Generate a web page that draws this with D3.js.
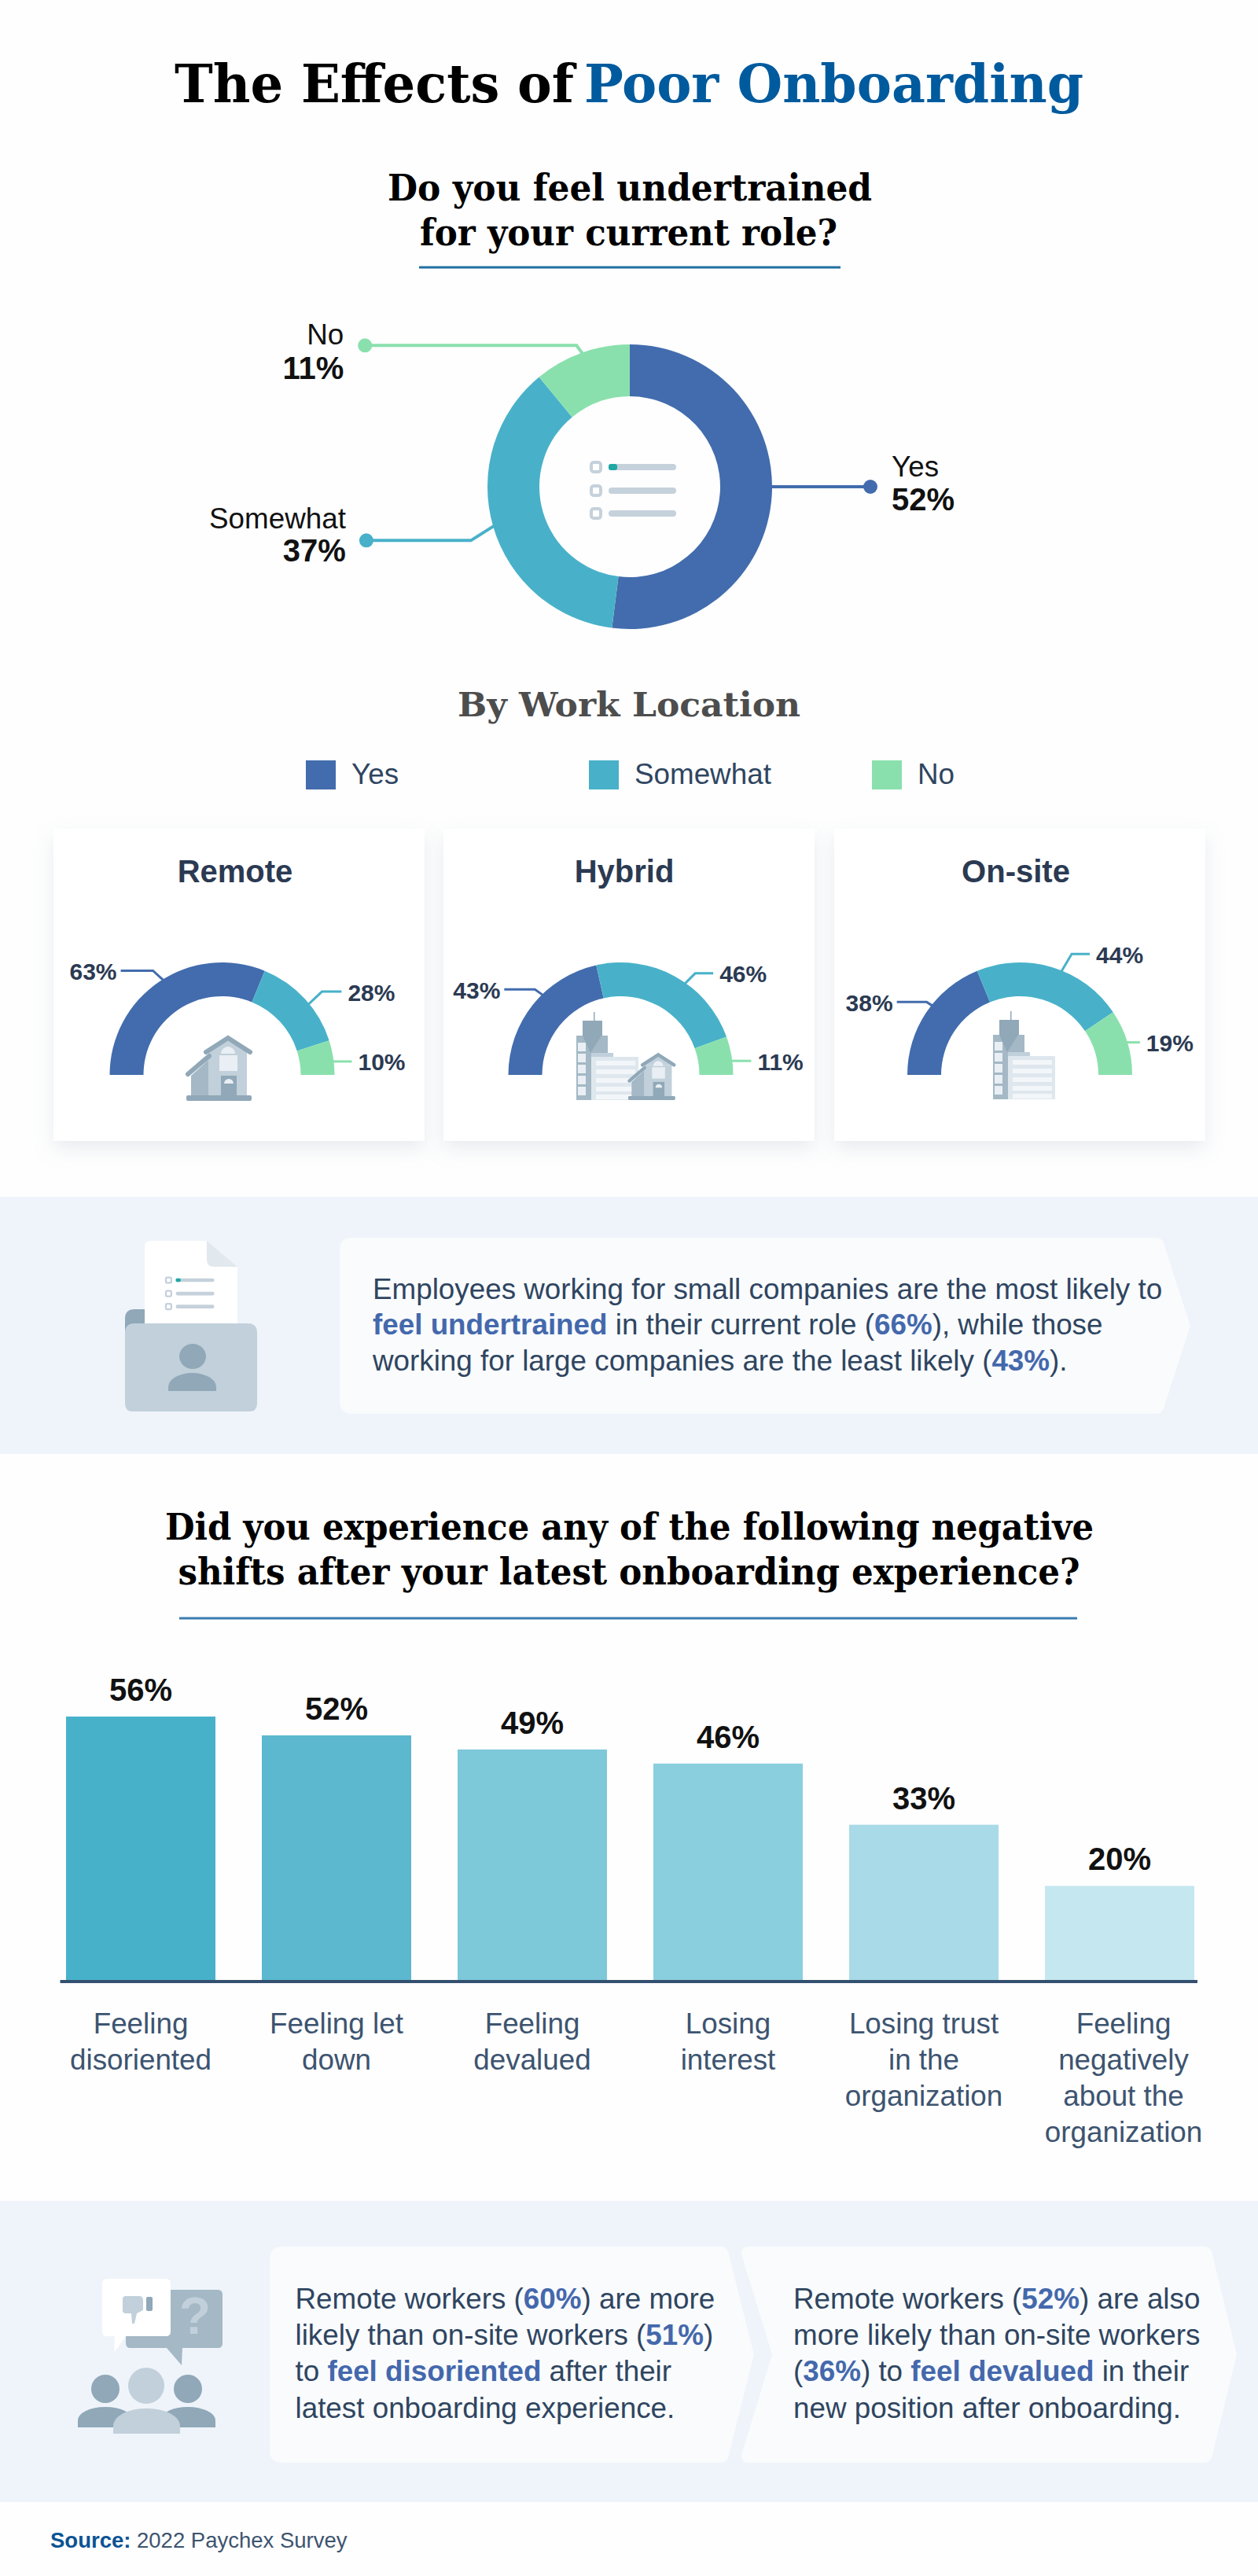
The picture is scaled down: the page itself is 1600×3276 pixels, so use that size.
<!DOCTYPE html>
<html>
<head>
<meta charset="utf-8">
<title>The Effects of Poor Onboarding</title>
<script src="https://cdn.jsdelivr.net/npm/d3@7"></script>
<style>
    html, body { margin: 0; padding: 0; background: #fff; }
    svg { display: block; }
    text { font-family: "Liberation Sans", Arial, sans-serif; }
    .serif { font-family: "DejaVu Serif", Georgia, serif; font-stretch: condensed; font-weight: bold; }
</style>
</head>
<body>
<div id="chart"></div>
<script>
// ---- chart values ----
var answerLabels = ["Yes", "Somewhat", "No"];
var overallValues = [52, 37, 11];

var locationNames = ["Remote", "Hybrid", "On-site"];
var remoteValues = [63, 28, 10];
var hybridValues = [43, 46, 11];
var onsiteValues = [38, 44, 19];

var shiftCategories = [
    "Feeling disoriented",
    "Feeling let down",
    "Feeling devalued",
    "Losing interest",
    "Losing trust in the organization",
    "Feeling negatively about the organization"
];
var shiftValues = [56, 52, 49, 46, 33, 20];
var shiftLabelLines = [
    ["Feeling", "disoriented"],
    ["Feeling let", "down"],
    ["Feeling", "devalued"],
    ["Losing", "interest"],
    ["Losing trust", "in the", "organization"],
    ["Feeling", "negatively", "about the", "organization"]
];

// text lines: [string, highlighted?]
var undertrainedNote = [
    [["Employees working for small companies are the most likely to", false]],
    [["feel undertrained", true], [" in their current role (", false], ["66%", true], ["), while those", false]],
    [["working for large companies are the least likely (", false], ["43%", true], [").", false]]
];
var disorientedNote = [
    [["Remote workers (", false], ["60%", true], [") are more", false]],
    [["likely than on-site workers (", false], ["51%", true], [")", false]],
    [["to ", false], ["feel disoriented", true], [" after their", false]],
    [["latest onboarding experience.", false]]
];
var devaluedNote = [
    [["Remote workers (", false], ["52%", true], [") are also", false]],
    [["more likely than on-site workers", false]],
    [["(", false], ["36%", true], [") to ", false], ["feel devalued", true], [" in their", false]],
    [["new position after onboarding.", false]]
];

// ---- colours ----
var answerColors = ["#426cad", "#48b1c9", "#8ae0ad"];
var barColors = ["#48b1ca", "#5bb8ce", "#7dc8d9", "#8acfde", "#a8dbe7", "#c5e7ef"];
var INK = "#2b3a52", BODY = "#2f4560", LABEL = "#3d5470", ACCENT = "#4468ac", NAVY = "#005a9e";
var BAND = "#eff4fa", PANEL = "#f9fbfd", ICON_DARK = "#90a8b8", ICON_MID = "#a4b8c5", ICON_LIGHT = "#c1d0da", ICON_PALE = "#e9eff4";

var svg = d3.select("#chart").append("svg")
    .attr("width", 1600)
    .attr("height", 3276)
    .attr("viewBox", "0 0 1600 3276");

var shadow = svg.append("defs").append("filter")
    .attr("id", "cardShadow")
    .attr("x", "-15%").attr("y", "-15%").attr("width", "130%").attr("height", "135%");
shadow.append("feDropShadow")
    .attr("dx", 0).attr("dy", 10).attr("stdDeviation", 12)
    .attr("flood-color", "#8fa3b5").attr("flood-opacity", 0.2);

svg.append("rect").attr("width", 1600).attr("height", 3276).attr("fill", "#fefefe");

/**
 * Serif heading, stretched to the width the line has in the picture.
 */
var _serifLine = function (str, x, baseline, width, size, color) {
    svg.append("text")
        .attr("class", "serif")
        .attr("x", x)
        .attr("y", baseline)
        .attr("font-size", size)
        .attr("fill", color)
        .attr("textLength", width)
        .attr("lengthAdjust", "spacingAndGlyphs")
        .text(str);
};

var _underline = function (x1, x2, y, color) {
    svg.append("line")
        .attr("x1", x1).attr("x2", x2).attr("y1", y).attr("y2", y)
        .attr("stroke", color).attr("stroke-width", 3);
};

/**
 * Leader line going out from a ring at the given angle (degrees clockwise from 12 o'clock).
 * Returns the point where the line ends.
 */
var _leader = function (parent, cx, cy, radius, angle, dir, out, rise, run, color, width) {
    var rad = angle * Math.PI / 180;
    var start = [cx + radius * Math.sin(rad), cy - radius * Math.cos(rad)];
    var elbow = [start[0] + dir * out, start[1] - rise];
    var end = [elbow[0] + dir * run, elbow[1]];
    parent.append("path")
        .attr("d", d3.line()([start, elbow, end]))
        .attr("fill", "none")
        .attr("stroke", color)
        .attr("stroke-width", width);
    return end;
};

var _roundedBars = function (parent, x, ys, w, h, color) {
    parent.selectAll(null).data(ys).enter().append("rect")
        .attr("x", x).attr("y", function (d) { return d; })
        .attr("width", w).attr("height", h).attr("rx", h / 2)
        .attr("fill", color);
};

// checklist used in the donut and on the folder's sheet
var _drawChecklist = function (parent, x, y, k) {
    var g = parent.append("g").attr("transform", "translate(" + x + "," + y + ") scale(" + k + ")");
    var rows = [0, 30, 59];
    g.selectAll(null).data(rows).enter().append("rect")
        .attr("x", 0).attr("y", function (d) { return d - 6; })
        .attr("width", 12).attr("height", 12).attr("rx", 3)
        .attr("fill", "#fff").attr("stroke", "#c5d1db").attr("stroke-width", 4);
    _roundedBars(g, 22, rows.map(function (d) { return d - 4; }), 86, 8, "#c5d1db");
    g.append("rect").attr("x", 22).attr("y", -4).attr("width", 11).attr("height", 8).attr("rx", 3).attr("fill", "#1fa8a4");
};

var _drawHouse = function (parent, x, y, k) {
    var g = parent.append("g").attr("transform", "translate(" + x + "," + y + ") scale(" + k + ")");
    g.append("path").attr("d", "M6,-32 L29,-53 V-5 H6 Z").attr("fill", ICON_MID);
    g.append("path").attr("d", "M28,-62 H77 V-5 H28 Z").attr("fill", ICON_LIGHT);
    g.append("path").attr("d", "M28,-62 L53,-77 L77,-62 Z").attr("fill", ICON_LIGHT);
    g.append("path").attr("d", "M2,-34 L29,-57").attr("stroke", ICON_DARK).attr("stroke-width", 6).attr("stroke-linecap", "round");
    g.append("path").attr("d", "M25,-62 L53,-80 L81,-62").attr("fill", "none").attr("stroke", ICON_DARK).attr("stroke-width", 6).attr("stroke-linecap", "round");
    g.append("path").attr("d", "M44,-60 A9,9 0 0 1 62,-60 Z").attr("fill", ICON_PALE);
    g.append("rect").attr("x", 42).attr("y", -58).attr("width", 23).attr("height", 20).attr("fill", ICON_PALE);
    g.append("rect").attr("x", 44).attr("y", -32).attr("width", 20).attr("height", 28).attr("fill", ICON_DARK);
    g.append("path").attr("d", "M48,-22 A6,6 0 0 1 60,-22 Z").attr("fill", ICON_PALE);
    g.append("rect").attr("x", 0).attr("y", -7).attr("width", 83).attr("height", 7).attr("rx", 2).attr("fill", ICON_DARK);
};

var _drawBuilding = function (parent, x, y) {
    var g = parent.append("g").attr("transform", "translate(" + x + "," + y + ")");
    g.append("rect").attr("x", 0).attr("y", -82).attr("width", 40).attr("height", 82).attr("fill", ICON_MID);
    g.append("rect").attr("x", 8).attr("y", -101).attr("width", 25).attr("height", 19).attr("fill", ICON_DARK);
    g.append("rect").attr("x", 22).attr("y", -112).attr("width", 1.5).attr("height", 11).attr("fill", ICON_DARK);
    g.append("path").attr("d", "M8,-82 H32 L18,-60 Z").attr("fill", ICON_DARK);
    g.selectAll(null).data([-73, -59, -45, -31, -17]).enter().append("rect")
        .attr("x", 2).attr("y", function (d) { return d; })
        .attr("width", 10).attr("height", 11).attr("fill", ICON_PALE);
    g.append("rect").attr("x", 19).attr("y", -60).attr("width", 28).attr("height", 8).attr("fill", ICON_LIGHT);
    g.append("rect").attr("x", 19).attr("y", -55).attr("width", 60).attr("height", 55).attr("fill", "#dfe7ee");
    g.selectAll(null).data([-50, -39, -28, -17, -7]).enter().append("rect")
        .attr("x", 25).attr("y", function (d) { return d; })
        .attr("width", 50).attr("height", 6).attr("fill", "#f3f6f9");
};

var _calloutPath = function (x0, x1, tip, y0, y1, notch) {
    var mid = (y0 + y1) / 2;
    var left = notch ? "L" + notch + "," + mid + " L" + (x0 - 2) + "," + (y0 + 10) + " Q" + (x0 - 2) + "," + y0 + " " + (x0 + 6) + "," + y0 + " Z"
        : "Q" + x0 + "," + y1 + " " + x0 + "," + (y1 - 16) + " V" + (y0 + 16) + " Q" + x0 + "," + y0 + " " + (x0 + 16) + "," + y0 + " Z";
    var head = notch ? "M" + (x0 + 6) + "," + y0 : "M" + (x0 + 16) + "," + y0;
    var foot = notch ? "H" + (x0 + 6) + " Q" + (x0 - 2) + "," + y1 + " " + (x0 - 2) + "," + (y1 - 10) + " " : "H" + (x0 + 16) + " ";
    return head + " H" + (x1 - 10) + " Q" + x1 + "," + y0 + " " + (x1 + 1.5) + "," + (y0 + 12)
        + " L" + tip + "," + mid + " L" + (x1 + 1.5) + "," + (y1 - 12)
        + " Q" + x1 + "," + y1 + " " + (x1 - 10) + "," + y1 + " " + foot + left;
};

var _noteText = function (lines, x, baselines) {
    lines.forEach(function (line, i) {
        var t = svg.append("text")
            .attr("x", x).attr("y", baselines[i])
            .attr("font-size", 36.8)
            .attr("fill", BODY)
            .attr("xml:space", "preserve")
            .style("white-space", "pre");
        t.selectAll("tspan").data(line).enter().append("tspan")
            .attr("fill", function (d) { return d[1] ? ACCENT : BODY; })
            .attr("font-weight", function (d) { return d[1] ? "bold" : "normal"; })
            .text(function (d) { return d[0]; });
    });
};

// ---- headings ----
_serifLine("The Effects of", 222, 130, 508, 67, "#000");
_serifLine("Poor Onboarding", 743, 130, 635, 67, NAVY);
_serifLine("Do you feel undertrained", 493, 255, 616, 46, "#000");
_serifLine("for your current role?", 534, 312, 531, 46, "#000");
_underline(533, 1069, 340, "#1f6fa0");

// ---- overall donut ----
var donutR = 181, donutInner = 115, donutX = 801, donutY = 619;
var donut = svg.append("g").attr("transform", "translate(" + donutX + "," + donutY + ")");
var donutArc = d3.arc().innerRadius(donutInner).outerRadius(donutR);
var donutPie = d3.pie().sort(null)(overallValues);

// leaders sit under the ring and keep the picture's layout: Yes, Somewhat, No
var donutLeaders = [
    { angle: 90, dir: 1, out: 0, rise: 0, run: 127, lx: 27, ly: [-13, 30], anchor: "start" },
    { angle: 254, dir: -1, out: 30, rise: -19, run: 133, lx: -26, ly: [-15, 27], anchor: "end" },
    { angle: 340.5, dir: -1, out: 8, rise: 11, run: 269, lx: -27, ly: [-1, 43], anchor: "end" }
];
donutLeaders.forEach(function (l, i) {
    var end = _leader(svg, donutX, donutY, donutR - 2, l.angle, l.dir, l.out, l.rise, l.run, answerColors[i], 4);
    svg.append("circle").attr("cx", end[0]).attr("cy", end[1]).attr("r", 9).attr("fill", answerColors[i]);
    svg.append("text")
        .attr("x", end[0] + l.lx).attr("y", end[1] + l.ly[0])
        .attr("text-anchor", l.anchor).attr("font-size", 36.8).attr("fill", "#111")
        .text(answerLabels[i]);
    svg.append("text")
        .attr("x", end[0] + l.lx).attr("y", end[1] + l.ly[1])
        .attr("text-anchor", l.anchor).attr("font-size", 40).attr("font-weight", "bold").attr("fill", "#111")
        .text(overallValues[i] + "%");
});

donut.selectAll("path").data(donutPie).enter().append("path")
    .attr("d", donutArc)
    .attr("fill", function (d, i) { return answerColors[i]; });

_drawChecklist(svg, 752, 594, 1);

// ---- by work location ----
_serifLine("By Work Location", 582, 911, 436, 43, "#4d4d4d");

var legendX = d3.scalePoint().domain(answerLabels).range([389, 1109]);
var legend = svg.selectAll(".legend").data(answerLabels).enter().append("g")
    .attr("class", "legend")
    .attr("transform", function (d) { return "translate(" + legendX(d) + ",967)"; });
legend.append("rect")
    .attr("width", 38).attr("height", 37)
    .attr("fill", function (d, i) { return answerColors[i]; });
legend.append("text")
    .attr("x", 58).attr("y", 30)
    .attr("font-size", 36.8).attr("fill", BODY)
    .text(function (d) { return d; });

// one entry per card; leaders are shift in degrees from the slice middle, then elbow
var gaugeLayout = [
    { cardX: 68, titleX: 299, cx: 282.5, values: remoteValues, leaders: [
        { shift: 2, out: 13, rise: 12, run: 41 },
        { shift: 3.5, out: 17, rise: 16, run: 25 },
        { shift: 2, out: 0, rise: 0, run: 24 }
    ] },
    { cardX: 564, titleX: 794, cx: 789.5, values: hybridValues, leaders: [
        { shift: 7, out: 10, rise: 7, run: 39 },
        { shift: 6.3, out: 13, rise: 13, run: 23 },
        { shift: 2.7, out: 0, rise: 0, run: 25 }
    ] },
    { cardX: 1061, titleX: 1292, cx: 1297, values: onsiteValues, leaders: [
        { shift: 4.5, out: 7, rise: 4.5, run: 38 },
        { shift: 5, out: 13, rise: 22, run: 23 },
        { shift: 0, out: 0, rise: 0, run: 17 }
    ] }
];
var gaugeY = 1367, gaugeR = 143, gaugeInner = 100;
var gaugePie = d3.pie().sort(null).startAngle(-Math.PI / 2).endAngle(Math.PI / 2);
var gaugeArc = d3.arc().innerRadius(gaugeInner).outerRadius(gaugeR);

gaugeLayout.forEach(function (layout, i) {
    svg.append("rect")
        .attr("x", layout.cardX).attr("y", 1054)
        .attr("width", 472).attr("height", 397)
        .attr("fill", "#fff").attr("filter", "url(#cardShadow)");
    svg.append("text")
        .attr("x", layout.titleX).attr("y", 1122)
        .attr("text-anchor", "middle").attr("font-size", 40).attr("font-weight", "bold").attr("fill", INK)
        .text(locationNames[i]);

    var slices = gaugePie(layout.values);
    slices.forEach(function (s, j) {
        var l = layout.leaders[j];
        var angle = (s.startAngle + s.endAngle) / 2 * 180 / Math.PI + l.shift;
        var dir = angle < 0 ? -1 : 1;
        var end = _leader(svg, layout.cx, gaugeY, gaugeR - 1, angle, dir, l.out, l.rise, l.run, answerColors[j], 3);
        svg.append("text")
            .attr("x", end[0] + dir * (dir < 0 ? 5 : 8)).attr("y", end[1] + 11.5)
            .attr("text-anchor", dir < 0 ? "end" : "start")
            .attr("font-size", 30).attr("font-weight", "bold").attr("fill", INK)
            .text(layout.values[j] + "%");
    });

    svg.append("g")
        .attr("transform", "translate(" + layout.cx + "," + gaugeY + ")")
        .selectAll("path").data(slices).enter().append("path")
        .attr("d", gaugeArc)
        .attr("fill", function (d, j) { return answerColors[j]; });
});

_drawHouse(svg, 237, 1400, 1);
_drawBuilding(svg, 733, 1399);
_drawHouse(svg, 799, 1399, 0.72);
_drawBuilding(svg, 1263, 1398);

// ---- first note band ----
svg.append("rect").attr("x", 0).attr("y", 1522).attr("width", 1600).attr("height", 327).attr("fill", BAND);
svg.append("path").attr("d", _calloutPath(432, 1480, 1514, 1574, 1798)).attr("fill", PANEL);
_noteText(undertrainedNote, 474, [1652, 1697, 1743]);

svg.append("path").attr("d", "M159,1677 Q159,1665 171,1665 H200 V1700 H159 Z").attr("fill", ICON_DARK);
svg.append("path").attr("d", "M192,1578 H263 L302,1611 V1690 H184 V1586 Q184,1578 192,1578 Z").attr("fill", "#fff");
svg.append("path").attr("d", "M263,1578 L302,1611 H272 Q263,1611 263,1602 Z").attr("fill", "#e1e8ee");
_drawChecklist(svg, 211, 1628, 0.57);
svg.append("path").attr("d", "M171,1683 H315 Q327,1683 327,1695 V1785 Q327,1795 317,1795 H169 Q159,1795 159,1785 V1695 Q159,1683 171,1683 Z").attr("fill", ICON_LIGHT);
svg.append("ellipse").attr("cx", 245).attr("cy", 1725).attr("rx", 17).attr("ry", 16).attr("fill", ICON_DARK);
svg.append("path").attr("d", "M214,1769 V1764 A30.5,18 0 0 1 275,1764 V1769 Z").attr("fill", ICON_DARK);

// ---- second heading ----
_serifLine("Did you experience any of the following negative", 210, 1958, 1181, 46, "#000");
_serifLine("shifts after your latest onboarding experience?", 226.5, 2015, 1147, 46, "#000");
_underline(228, 1370, 2058, "#3a7cb0");

// ---- bars ----
var barBase = 2518;
var x = d3.scaleBand().domain(shiftCategories).range([84, 1519]).paddingInner(59 / 249);
var y = d3.scaleLinear().domain([0, 56]).range([barBase, 2183]);

svg.selectAll(".bar").data(shiftValues).enter().append("rect")
    .attr("class", "bar")
    .attr("x", function (d, i) { return x(shiftCategories[i]); })
    .attr("y", function (d) { return y(d); })
    .attr("width", x.bandwidth())
    .attr("height", function (d) { return barBase - y(d); })
    .attr("fill", function (d, i) { return barColors[i]; });

svg.selectAll(".barValue").data(shiftValues).enter().append("text")
    .attr("class", "barValue")
    .attr("x", function (d, i) { return x(shiftCategories[i]) + x.bandwidth() / 2; })
    .attr("y", function (d) { return y(d) - 20; })
    .attr("text-anchor", "middle")
    .attr("font-size", 40).attr("font-weight", "bold").attr("fill", "#111")
    .text(function (d) { return d + "%"; });

svg.append("line")
    .attr("x1", 76.5).attr("x2", 1523).attr("y1", 2520).attr("y2", 2520)
    .attr("stroke", "#34506f").attr("stroke-width", 4);

var xAxis = svg.append("g")
    .attr("transform", "translate(0,2520)")
    .call(d3.axisBottom(x).tickSize(0).tickFormat(""));
xAxis.select(".domain").remove();
xAxis.selectAll(".tick text").each(function (d, i) {
    var label = d3.select(this)
        .attr("y", 0).attr("dy", null)
        .attr("x", i === 5 ? 5 : 0)
        .attr("font-size", 36.8)
        .attr("font-family", "Liberation Sans")
        .attr("fill", LABEL);
    shiftLabelLines[i].forEach(function (line, n) {
        label.append("tspan")
            .attr("x", i === 5 ? 5 : 0)
            .attr("y", 66 + n * 46)
            .text(line);
    });
});

// ---- second note band ----
svg.append("rect").attr("x", 0).attr("y", 2799).attr("width", 1600).attr("height", 383).attr("fill", BAND);
svg.append("path").attr("d", _calloutPath(343, 926, 959, 2857, 3132)).attr("fill", PANEL);
svg.append("path").attr("d", _calloutPath(945, 1541, 1573, 2857, 3132, 982)).attr("fill", PANEL);
_noteText(disorientedNote, 375.5, [2936, 2982, 3028, 3075]);
_noteText(devaluedNote, 1009, [2936, 2982, 3028, 3075]);

// speech bubbles and people
svg.append("path").attr("d", "M170,2912 H277 Q283,2912 283,2918 V2980 Q283,2986 277,2986 H232 L231,3008 L212,2986 H166 Q160,2986 160,2980 V2918 Q160,2912 170,2912 Z").attr("fill", ICON_MID);
svg.append("text").attr("x", 248).attr("y", 2968).attr("text-anchor", "middle").attr("font-size", 66).attr("font-weight", "bold").attr("fill", ICON_LIGHT).text("?");
svg.append("path").attr("d", "M136,2898 H211 Q217,2898 217,2904 V2965 Q217,2971 211,2971 H160 L145,2992 L146,2971 H136 Q130,2971 130,2965 V2904 Q130,2898 136,2898 Z").attr("fill", "#fff");
svg.append("path").attr("d", "M160,2920 H178 Q182,2920 182,2926 V2938 L174,2942 L171,2955 L168,2955 L167,2942 H160 Q156,2942 156,2938 V2924 Q156,2920 160,2920 Z").attr("fill", ICON_LIGHT);
svg.append("rect").attr("x", 186).attr("y", 2921).attr("width", 8).attr("height", 18).attr("rx", 2).attr("fill", ICON_DARK);

svg.selectAll(null).data([134, 239]).enter().append("ellipse")
    .attr("cx", function (d) { return d; }).attr("cy", 3038)
    .attr("rx", 18).attr("ry", 18).attr("fill", ICON_DARK);
svg.append("path").attr("d", "M99,3087 V3078 A35,17 0 0 1 169,3078 V3087 Z").attr("fill", ICON_DARK);
svg.append("path").attr("d", "M204,3087 V3078 A35,17 0 0 1 274,3078 V3087 Z").attr("fill", ICON_DARK);
svg.append("ellipse").attr("cx", 186).attr("cy", 3034).attr("rx", 23).attr("ry", 23).attr("fill", ICON_LIGHT);
svg.append("path").attr("d", "M144,3095 V3085 A42,22 0 0 1 229,3085 V3095 Z").attr("fill", ICON_LIGHT);

// ---- source ----
var source = svg.append("text")
    .attr("x", 64).attr("y", 3240)
    .attr("font-size", 27.5).attr("fill", LABEL);
source.append("tspan").attr("font-weight", "bold").attr("fill", "#0b5394").text("Source:");
source.append("tspan").text(" 2022 Paychex Survey");
</script>
</body>
</html>
